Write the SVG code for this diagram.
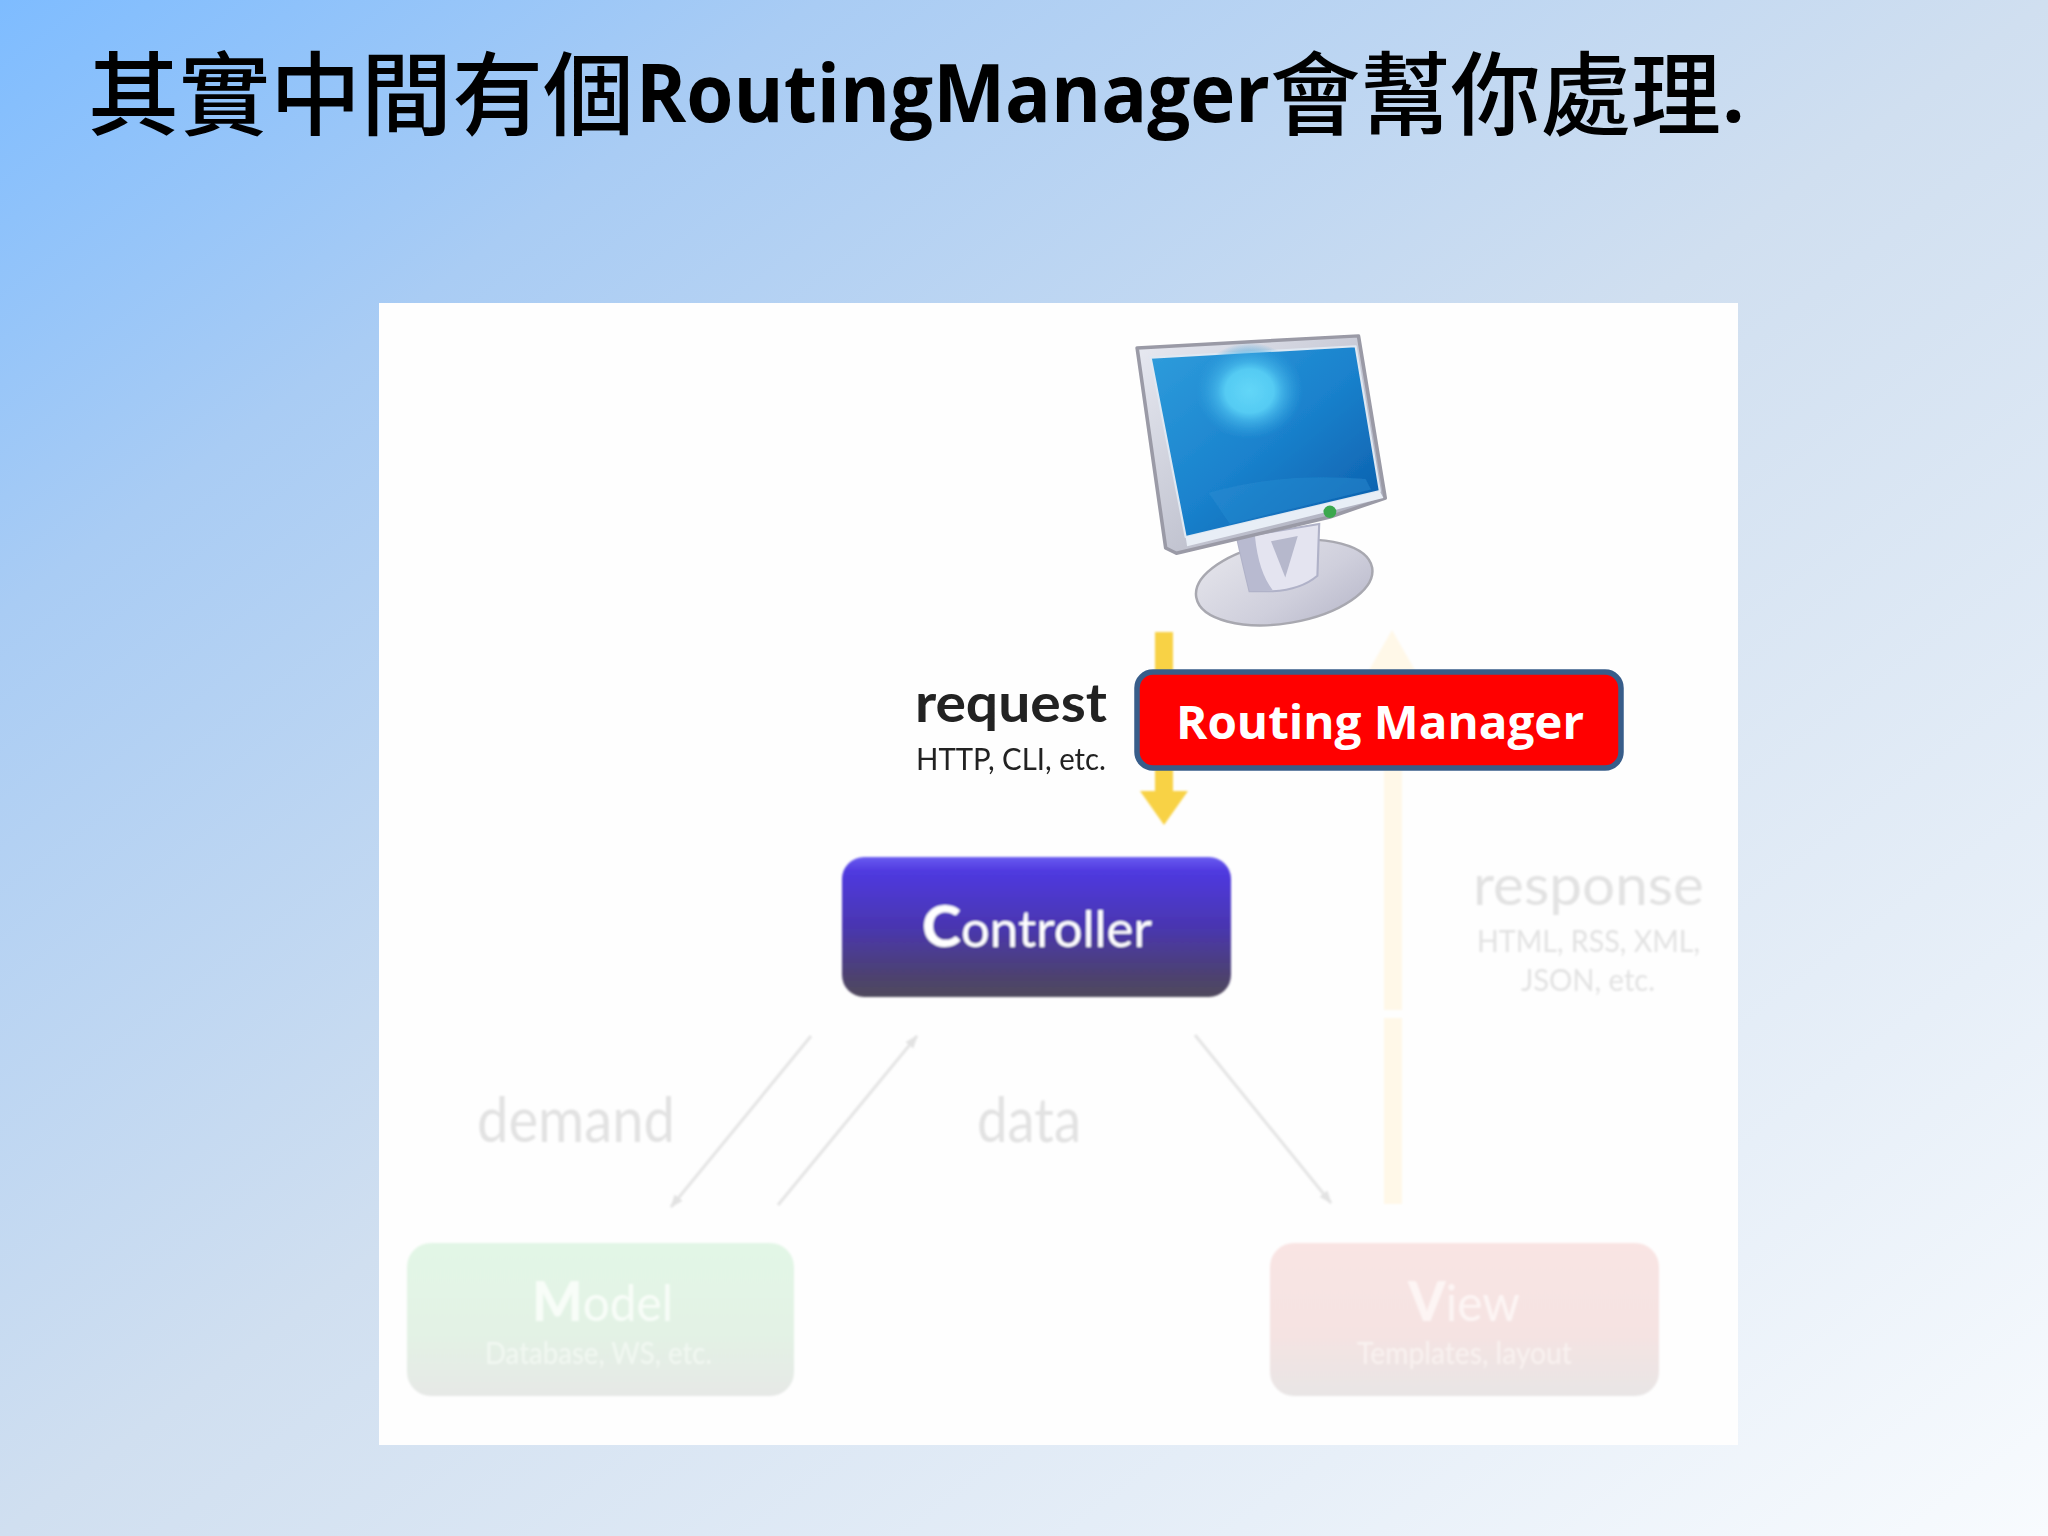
<svg xmlns="http://www.w3.org/2000/svg" width="2048" height="1536" viewBox="0 0 2048 1536">
<style>
.t{font-family:"Noto Sans CJK TC","Noto Sans",sans-serif;font-weight:500;fill:#000;font-size:91px}
.l{font-family:"Open Sans","Noto Sans",sans-serif;font-weight:700;font-size:80px;fill:#000}
.g{font-family:Lato,"Noto Sans",sans-serif}
.faint{fill:#e2e2e2}
.wire{fill:none;stroke:#e4e4e4;stroke-width:3}
.node{stroke:none}
</style>
<defs>
<linearGradient id="bg" x1="0" y1="0" x2="1" y2="1">
<stop offset="0" stop-color="#7ebcff"/><stop offset=".2" stop-color="#a9ccf4"/><stop offset=".5" stop-color="#d0dff0"/><stop offset=".8" stop-color="#e7eff8"/><stop offset="1" stop-color="#f8fbfe"/>
</linearGradient>
<linearGradient id="ctl" x1="0" y1="0" x2="0" y2="1">
<stop offset="0" stop-color="#6a5cf0"/><stop offset=".1" stop-color="#4f3ae0"/><stop offset=".5" stop-color="#4a36b0"/><stop offset=".85" stop-color="#4d4270"/><stop offset="1" stop-color="#50495c"/>
</linearGradient>
<linearGradient id="mod" x1="0" y1="0" x2="0" y2="1">
<stop offset="0" stop-color="#e2f6e6"/><stop offset=".6" stop-color="#e3f2e5"/><stop offset="1" stop-color="#e6e8e6"/>
</linearGradient>
<linearGradient id="vw" x1="0" y1="0" x2="0" y2="1">
<stop offset="0" stop-color="#f9e4e3"/><stop offset=".6" stop-color="#f5e3e2"/><stop offset="1" stop-color="#e8e5e5"/>
</linearGradient>
<linearGradient id="scr" x1="0" y1="0" x2="1" y2="1">
<stop offset="0" stop-color="#2f9ddc"/><stop offset=".5" stop-color="#1a82cd"/><stop offset="1" stop-color="#0a5aa8"/>
</linearGradient>
<radialGradient id="glow"><stop offset="0" stop-color="#62d6f8"/><stop offset=".45" stop-color="#55cbf3"/><stop offset=".6" stop-color="#3fb0e6"/><stop offset="1" stop-color="#2f9ddc" stop-opacity="0"/></radialGradient>
<linearGradient id="frame" x1="0" y1="0" x2="1" y2="1"><stop offset="0" stop-color="#e8eaf2"/><stop offset="1" stop-color="#a6a8b8"/></linearGradient>
<linearGradient id="base" x1="0" y1="0" x2="1" y2="1"><stop offset="0" stop-color="#e6e6ec"/><stop offset=".6" stop-color="#cfcfdc"/><stop offset="1" stop-color="#b8b8ca"/></linearGradient>
<filter id="soft" x="-5%" y="-5%" width="110%" height="110%"><feGaussianBlur stdDeviation="1.2"/></filter>
<filter id="soft3" x="-5%" y="-5%" width="110%" height="110%"><feGaussianBlur stdDeviation=".7"/></filter>
<marker id="ah" markerWidth="14" markerHeight="12" refX="12" refY="5" orient="auto" markerUnits="userSpaceOnUse"><path d="M0 0L13 5L0 10Z" fill="#e2e2e2"/></marker>
</defs>
<rect width="2048" height="1536" fill="url(#bg)"/>
<g id="title">
<text class="t" x="88" y="128">其實中間有個</text>
<text class="l" x="636" y="122" textLength="634" lengthAdjust="spacingAndGlyphs">RoutingManager</text>
<text class="t" x="1270" y="128" textLength="451" lengthAdjust="spacingAndGlyphs">會幫你處理</text>
<text class="l" x="1722" y="122">.</text>
</g>
<rect id="panel" x="379" y="303" width="1359" height="1142" fill="#fefefe"/>
<g id="connectors" filter="url(#soft)">
<path d="M1155 632H1173V791H1188L1164 825L1140 791H1155Z" fill="#f8d244"/>
<path d="M1392 630L1416 672H1402V1010H1384V672H1368Z" fill="#fff8e8"/>
<path d="M1384 1018H1402V1204H1384Z" fill="#fff8e8"/>
<path class="wire" d="M811 1036L671 1207" marker-end="url(#ah)"/>
<path class="wire" d="M778 1205L917 1036" marker-end="url(#ah)"/>
<path class="wire" d="M1195 1035L1331 1203" marker-end="url(#ah)"/>
</g>
<g id="monitor" transform="translate(1080 310) scale(.357 .345)" filter="url(#soft)">
<ellipse cx="572" cy="790" rx="250" ry="118" transform="rotate(-10 572 790)" fill="url(#base)" stroke="#a8a8b0" stroke-width="7"/>
<path d="M440 660L670 620L665 770Q620 810 540 815L475 815Q455 730 440 660Z" fill="#e4e4f0" stroke="#b0b2c8" stroke-width="6"/>
<path d="M440 660L490 655Q500 760 540 812L475 815Q455 730 440 660Z" fill="#b8bad0"/>
<path d="M535 670L610 655L575 775Z" fill="#b6b8cc"/>
<path d="M160 110L780 75L855 545L700 600L270 705L240 690Z" fill="url(#frame)" stroke="#9a9aa6" stroke-width="10" stroke-linejoin="round"/>
<path d="M198 138L772 105L840 525L296 658Z" fill="url(#scr)" stroke="#dfe8f2" stroke-width="6" stroke-linejoin="round"/>
<ellipse cx="475" cy="235" rx="150" ry="140" fill="url(#glow)"/>
<path d="M360 530Q560 470 800 490L815 520L420 620Z" fill="#2a8ed2" opacity=".45"/>
<path d="M296 658L840 525L850 545L300 685Z" fill="#e8eef6"/>
<circle cx="700" cy="585" r="18" fill="#3aa84e"/>
</g>
<g id="request" class="g" filter="url(#soft3)">
<text x="915" y="722" font-size="54" font-weight="700" fill="#222" textLength="192" lengthAdjust="spacingAndGlyphs">request</text>
<text x="916" y="770" font-size="30" fill="#222" textLength="190" lengthAdjust="spacingAndGlyphs">HTTP, CLI, etc.</text>
</g>
<g id="controller" filter="url(#soft)">
<rect class="node" x="842" y="857" width="389" height="140" rx="22" fill="url(#ctl)"/>
<text class="g" x="922" y="947" font-size="50" fill="#fff" textLength="230" lengthAdjust="spacingAndGlyphs"><tspan font-weight="900" font-size="58">C</tspan>ontroller</text>
</g>
<g id="labels" class="g" filter="url(#soft)">
<text class="faint" x="477" y="1142" font-size="62" textLength="198" lengthAdjust="spacingAndGlyphs">demand</text>
<text class="faint" x="977" y="1142" font-size="62" textLength="104" lengthAdjust="spacingAndGlyphs">data</text>
<text class="faint" x="1473" y="905" font-size="56" textLength="231" lengthAdjust="spacingAndGlyphs">response</text>
<text class="faint" x="1477" y="952" font-size="31" textLength="223" lengthAdjust="spacingAndGlyphs">HTML, RSS, XML,</text>
<text class="faint" x="1521" y="991" font-size="31" textLength="134" lengthAdjust="spacingAndGlyphs">JSON, etc.</text>
</g>
<g id="model" filter="url(#soft)">
<rect class="node" x="407" y="1243" width="387" height="153" rx="24" fill="url(#mod)"/>
<text class="g" x="532" y="1321" font-size="50" fill="#f8fdf8" textLength="141" lengthAdjust="spacingAndGlyphs"><tspan font-weight="900" font-size="56">M</tspan>odel</text>
<text class="g" x="485" y="1364" font-size="30" fill="#f2f8f2" textLength="227" lengthAdjust="spacingAndGlyphs">Database, WS, etc.</text>
</g>
<g id="view" filter="url(#soft)">
<rect class="node" x="1270" y="1243" width="389" height="153" rx="24" fill="url(#vw)"/>
<text class="g" x="1408" y="1321" font-size="50" fill="#fdf5f4" textLength="112" lengthAdjust="spacingAndGlyphs"><tspan font-weight="900" font-size="56">V</tspan>iew</text>
<text class="g" x="1357" y="1364" font-size="30" fill="#f9f2f0" textLength="215" lengthAdjust="spacingAndGlyphs">Templates, layout</text>
</g>
<g id="routing-manager">
<rect x="1137" y="672" width="484" height="96" rx="16" fill="#ff0000" stroke="#385d8a" stroke-width="5.5"/>
<text x="1176" y="739" font-family="'Open Sans','Noto Sans',sans-serif" font-weight="700" font-size="47" fill="#fff" textLength="408" lengthAdjust="spacingAndGlyphs">Routing Manager</text>
</g>
</svg>
